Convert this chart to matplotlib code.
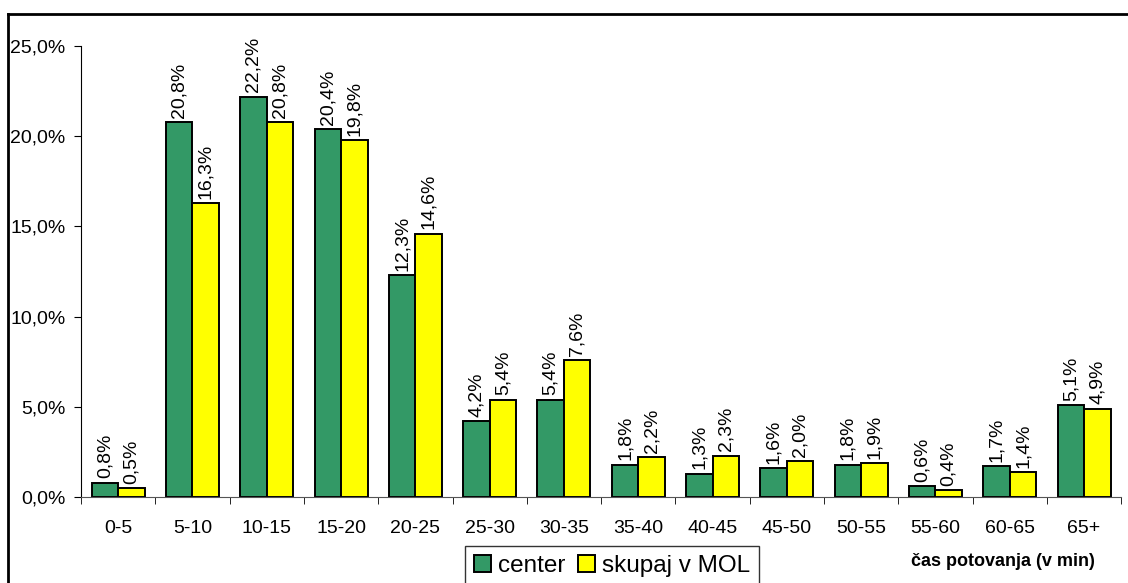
import matplotlib.pyplot as plt
from matplotlib.lines import Line2D
import numpy as np

plt.rcParams['font.family'] = ['Liberation Sans', 'DejaVu Sans']

categories = ['0-5', '5-10', '10-15', '15-20', '20-25', '25-30', '30-35',
              '35-40', '40-45', '45-50', '50-55', '55-60', '60-65', '65+']
center = [0.8, 20.8, 22.2, 20.4, 12.3, 4.2, 5.4, 1.8, 1.3, 1.6, 1.8, 0.6, 1.7, 5.1]
skupaj = [0.5, 16.3, 20.8, 19.8, 14.6, 5.4, 7.6, 2.2, 2.3, 2.0, 1.9, 0.4, 1.4, 4.9]
series_names = ['center', 'skupaj v MOL']
colors = ['#339966', '#FFFF00']


def pct(v):
    return f'{v:.1f}%'.replace('.', ',')


fig = plt.figure(figsize=(11.28, 5.83), dpi=100)
ax = fig.add_axes([81 / 1128, 1 - 497 / 583, 1 - 81 / 1128 - 0.006, (497 - 46) / 583])

x = np.arange(len(categories))
w = 0.357
for i, (vals, name, col) in enumerate(zip([center, skupaj], series_names, colors)):
    pos = x + (i - 0.5) * w
    ax.bar(pos, vals, width=w, color=col, edgecolor='black', linewidth=1.4, label=name)
    for p, v in zip(pos, vals):
        ax.annotate(pct(v), (p, v), xytext=(0, 3), textcoords='offset points',
                    rotation=90, ha='center', va='bottom', fontsize=14,
                    annotation_clip=False)

ax.set_xlim(-0.5, len(categories) - 0.5)
ax.set_ylim(0, 25)
ax.set_yticks(np.arange(0, 26, 5))
ax.set_yticklabels([pct(v) for v in np.arange(0, 26, 5)], fontsize=14)
ax.set_xticks(x)
ax.set_xticklabels(categories, fontsize=14)
ax.set_xticks(np.arange(-0.5, len(categories), 1), minor=True)
ax.tick_params(axis='x', which='major', length=0, pad=16.5)
ax.tick_params(axis='x', which='minor', length=5, direction='out')
ax.tick_params(axis='y', length=5, direction='out', pad=6)
for s in ['top', 'right']:
    ax.spines[s].set_visible(False)
ax.spines['left'].set_color('black')
ax.spines['bottom'].set_color('#555555')

leg = fig.legend(loc='upper center', bbox_to_anchor=(612 / 1128, 1 - 534 / 583),
                 ncol=2, fontsize=17.5, frameon=True, fancybox=False,
                 handlelength=0.7, handleheight=0.7, handletextpad=0.3,
                 columnspacing=0.5, borderpad=0.35)
leg.get_frame().set_edgecolor('black')
leg.get_frame().set_linewidth(1)

fig.text(1003 / 1128, 1 - 562 / 583, 'čas potovanja (v min)', fontsize=13,
         fontweight='bold', ha='center', va='center')

# outer frame (only top and left visible)
fig.add_artist(Line2D([8 / 1128, 8 / 1128], [0, 1 - 14 / 583], color='black', linewidth=2))
fig.add_artist(Line2D([8 / 1128, 1], [1 - 14 / 583, 1 - 14 / 583], color='black', linewidth=2))

fig.savefig('out.png', dpi=100)
